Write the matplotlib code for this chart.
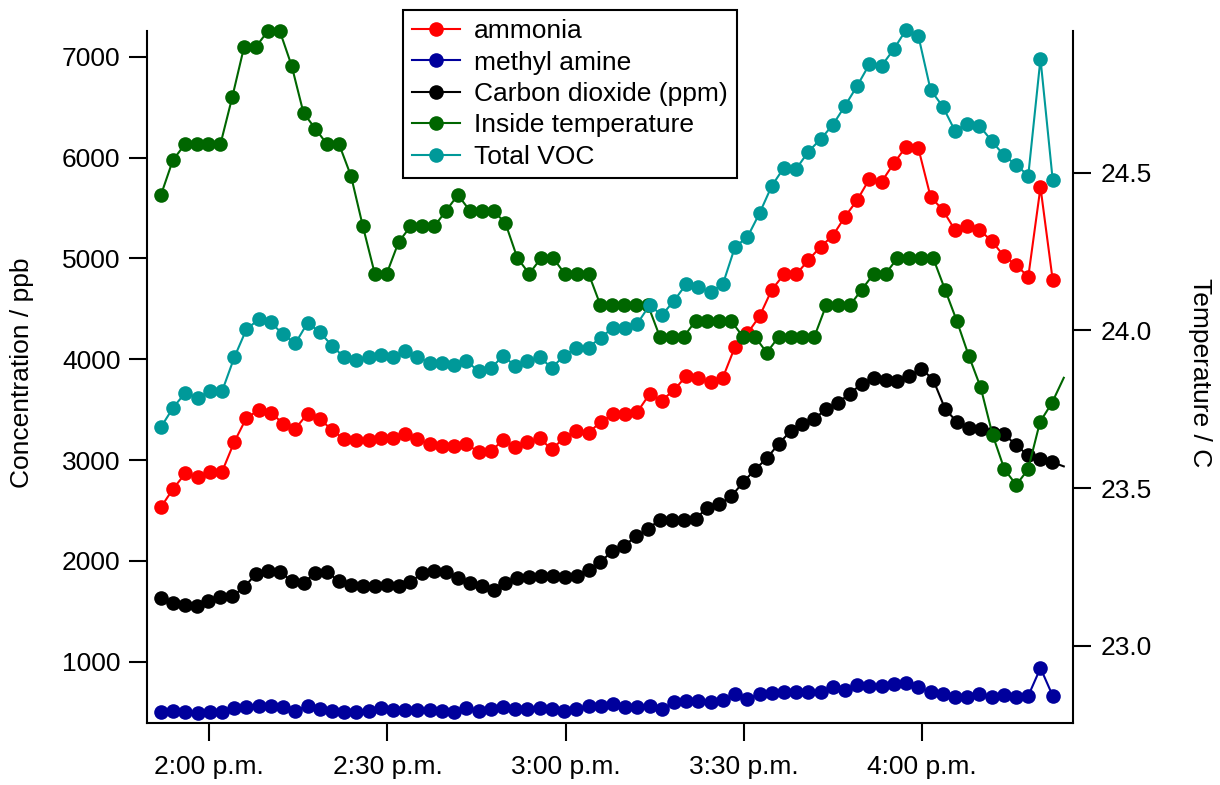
import datetime as dt
import pandas as pd
import matplotlib
matplotlib.use("Agg")
import matplotlib.pyplot as plt

plt.rcParams['font.family'] = ['Liberation Sans', 'DejaVu Sans']

DAY = "2000-01-01 "

# gas analyser (ammonia, methyl amine, VOC) : 74 samples between these times
gas_start = DAY + "13:51:52"
gas_end = DAY + "16:22:00"
# CO2 / temperature logger : one sample every 2 min (last one has no marker)
log_start = DAY + "13:51:52"
log_step = "120s"

ammonia = [2533, 2715, 2868, 2835, 2884, 2884, 3179, 3419, 3493, 3470,
           3361, 3311, 3460, 3408, 3298, 3207, 3202, 3202, 3218, 3218,
           3262, 3205, 3156, 3139, 3135, 3160, 3079, 3089, 3195, 3126,
           3179, 3215, 3105, 3222, 3290, 3268, 3380, 3452, 3452, 3477,
           3655, 3590, 3695, 3832, 3818, 3772, 3818, 4125, 4255, 4425,
           4688, 4841, 4841, 4983, 5116, 5225, 5414, 5579, 5788, 5761,
           5943, 6109, 6093, 5612, 5480, 5281, 5321, 5281, 5175, 5023,
           4934, 4817, 5705, 4785]

methyl_amine = [506, 510, 500, 490, 500, 503, 536, 546, 563, 556,
                546, 513, 563, 530, 513, 500, 500, 513, 536, 520,
                520, 520, 520, 513, 506, 540, 513, 530, 553, 530,
                530, 540, 530, 513, 530, 563, 563, 580, 553, 546,
                563, 530, 596, 613, 606, 596, 623, 675, 627, 684,
                685, 702, 695, 702, 695, 752, 722, 768, 762, 762,
                778, 788, 752, 695, 679, 652, 652, 679, 652, 669,
                652, 662, 937, 662]

total_voc = [3327, 3520, 3669, 3616, 3685, 3682, 4017, 4298, 4394, 4364,
             4245, 4156, 4361, 4271, 4132, 4020, 3997, 4017, 4046, 4017,
             4079, 4017, 3967, 3967, 3940, 3983, 3881, 3908, 4033, 3934,
             3980, 4017, 3916, 4033, 4116, 4116, 4215, 4311, 4311, 4354,
             4536, 4437, 4579, 4745, 4712, 4669, 4745, 5116, 5209, 5447,
             5718, 5900, 5887, 6059, 6182, 6324, 6513, 6712, 6927, 6911,
             7076, 7268, 7208, 6672, 6506, 6265, 6334, 6317, 6165, 6023,
             5927, 5821, 6980, 5778]

co2 = [1633, 1583, 1563, 1556, 1599, 1639, 1649, 1738, 1871, 1904,
       1887, 1805, 1782, 1881, 1887, 1798, 1762, 1748, 1748, 1762,
       1748, 1788, 1881, 1904, 1890, 1830, 1785, 1755, 1715, 1778,
       1831, 1844, 1854, 1854, 1844, 1854, 1914, 1993, 2093, 2152,
       2242, 2318, 2408, 2408, 2401, 2417, 2527, 2560, 2639, 2778,
       2905, 3016, 3162, 3285, 3361, 3404, 3510, 3570, 3659, 3758,
       3814, 3798, 3784, 3834, 3907, 3798, 3510, 3377, 3318, 3311,
       3268, 3255, 3146, 3046, 3007, 2980, 2937]

temperature = [24.43, 24.54, 24.59, 24.59, 24.59, 24.59, 24.74, 24.90, 24.90, 24.95,
               24.95, 24.84, 24.69, 24.64, 24.59, 24.59, 24.49, 24.33, 24.18, 24.18,
               24.28, 24.33, 24.33, 24.33, 24.38, 24.43, 24.38, 24.38, 24.38, 24.34,
               24.23, 24.18, 24.23, 24.23, 24.18, 24.18, 24.18, 24.08, 24.08, 24.08,
               24.08, 24.08, 23.98, 23.98, 23.98, 24.03, 24.03, 24.03, 24.03, 23.98,
               23.98, 23.93, 23.98, 23.98, 23.98, 23.98, 24.08, 24.08, 24.08, 24.13,
               24.18, 24.18, 24.23, 24.23, 24.23, 24.23, 24.13, 24.03, 23.92, 23.82,
               23.67, 23.56, 23.51, 23.56, 23.71, 23.77, 23.85]

tick_times = ["14:00", "14:30", "15:00", "15:30", "16:00"]
tick_labels = ["2:00 p.m.", "2:30 p.m.", "3:00 p.m.", "3:30 p.m.", "4:00 p.m."]

gas_t = pd.date_range(gas_start, gas_end, periods=len(ammonia)).to_pydatetime()
log_t = pd.date_range(log_start, periods=len(co2), freq=log_step).to_pydatetime()

RED = "#ff0000"
BLUE = "#00009c"
BLACK = "#000000"
GREEN = "#006600"
TEAL = "#009999"
FS = 19

style = dict(marker="o", markersize=10.5, markeredgewidth=0, linewidth=1.5, clip_on=False)

fig = plt.figure(figsize=(12.2, 7.85), dpi=100)
ax = fig.add_axes([0.1205, 0.0786, 0.759, 0.8823])
h1, = ax.plot(gas_t, ammonia, color=RED, label="ammonia", **style)
h2, = ax.plot(gas_t, methyl_amine, color=BLUE, label="methyl amine", **style)
h3, = ax.plot(log_t, co2, color=BLACK, label="Carbon dioxide (ppm)",
              markevery=slice(0, len(co2) - 1), **style)

ax2 = ax.twinx()
h4, = ax2.plot(log_t, temperature, color=GREEN, label="Inside temperature",
               markevery=slice(0, len(temperature) - 1), **style)

# VOC drawn last, on top of temperature, with the concentration scale
ax3 = ax.twinx()
h5, = ax3.plot(gas_t, total_voc, color=TEAL, label="Total VOC", **style)

ylim = (389, 7258)
ax.set_ylim(*ylim)
ax3.set_ylim(*ylim)
ax2.set_ylim(22.754, 24.951)
ax3.set_axis_off()

x0 = dt.datetime(2000, 1, 1, 13, 49, 31)
x1 = dt.datetime(2000, 1, 1, 16, 25, 25)
ax.set_xlim(x0, x1)
ax3.set_xlim(x0, x1)

ax.set_xticks([pd.Timestamp(DAY + t).to_pydatetime() for t in tick_times])
ax.set_xticklabels(tick_labels)
ax.set_yticks([1000, 2000, 3000, 4000, 5000, 6000, 7000])
ax2.set_yticks([23.0, 23.5, 24.0, 24.5])
ax2.yaxis.set_major_formatter(matplotlib.ticker.FormatStrFormatter("%.1f"))

for a in (ax, ax2):
    a.spines["top"].set_visible(False)
    for s in ("left", "right", "bottom"):
        a.spines[s].set_linewidth(1.5)
ax.spines["right"].set_visible(False)
ax2.spines["left"].set_visible(False)
ax2.spines["bottom"].set_visible(False)

ax.tick_params(axis="y", direction="out", length=13, width=1.5, labelsize=FS, pad=6)
ax.tick_params(axis="x", direction="out", length=13, width=1.5, labelsize=FS, pad=10)
ax2.tick_params(axis="y", direction="out", length=13, width=1.5, labelsize=FS, pad=7)

fig.text(22 / 1220, 0.5255, "Concentration / ppb", rotation=90, ha="center", va="center", fontsize=FS)
fig.text(1200 / 1220, 0.5255, "Temperature / C", rotation=270, ha="center", va="center", fontsize=FS)

leg = fig.legend([h1, h2, h3, h4, h5], [h.get_label() for h in (h1, h2, h3, h4, h5)],
                 loc="upper left", bbox_to_anchor=(403 / 1220, 1 - 10 / 785),
                 fontsize=FS, frameon=True, fancybox=False, framealpha=1,
                 edgecolor="black", borderpad=0.35, labelspacing=0.28,
                 handlelength=1.8, handletextpad=0.55, borderaxespad=0)
leg.get_frame().set_linewidth(1.5)

fig.savefig("out.png", dpi=100)
